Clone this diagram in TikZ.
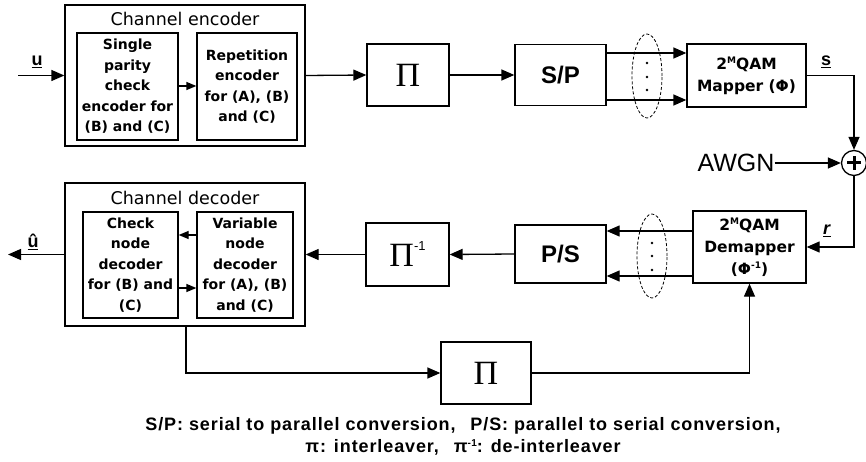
\documentclass[tikz,border=0pt]{standalone}
\usepackage{fontspec}
\setmainfont{Liberation Sans}
\newfontfamily\dvs{DejaVu Sans}
\newfontfamily\lserif{Liberation Serif}
\usetikzlibrary{arrows.meta,shapes.geometric}
\tikzset{
  blk/.style={draw, line width=1.3pt, inner sep=0pt, align=center},
  inner/.style={blk, font=\dvs\bfseries\fontsize{14}{20.5}\selectfont},
  qam/.style={blk, font=\dvs\bfseries\fontsize{15.5}{22}\selectfont},
  pibox/.style={blk, font=\lserif\fontsize{34}{34}\selectfont},
  conv/.style={blk, font=\bfseries\fontsize{24}{24}\selectfont},
  arr/.style={-{Triangle[length=13pt,width=11pt]}, line width=1.3pt},
  sarr/.style={-{Triangle[length=10pt,width=8pt]}, line width=1.3pt},
  dell/.style={ellipse, draw, dash pattern=on 3pt off 2pt, line width=0.8pt, inner sep=0pt, minimum width=30pt, minimum height=84pt},
  lbl/.style={font=\bfseries\fontsize{18}{18}\selectfont, inner sep=0pt},
  title/.style={font=\dvs\fontsize{17.5}{17.5}\selectfont, inner sep=0pt}
}
\newcommand{\smallsup}[1]{\raisebox{6pt}{\fontsize{9}{9}\selectfont #1}}
\begin{document}
\begin{tikzpicture}[x=1pt,y=-1pt]
\useasboundingbox (0,0) rectangle (866,462);
% encoder
\node[blk, minimum width=240pt, minimum height=141pt] (enc) at (185,75.5) {};
\node[title] (enct) at (185,19) {Channel encoder};
\node[inner, minimum width=101pt, minimum height=107pt] (spc) at (127.5,86.5) {Single\\parity\\check\\encoder for\\(B) and (C)};
\node[inner, minimum width=100pt, minimum height=107pt] (rep) at (247,86.5) {Repetition\\encoder\\for (A), (B)\\and (C)};
\coordinate (uin) at (18,75.5);
\node[lbl] (ulbl) at (37,62) {\underline{u}};
% top chain
\node[pibox, minimum width=82pt, minimum height=62pt] (pi1) at (408,75) {Π};
\node[conv, minimum width=91pt, minimum height=61pt] (sp) at (560.5,75) {S/P};
\node[dell] (el1) at (647,76) {};
\node[qam, minimum width=119pt, minimum height=63pt] (map) at (746.5,75.5) {2\smallsup{M}QAM\\Mapper (Φ)};
\node[lbl] (slbl) at (826,62) {\underline{s}};
% adder
\node[circle, draw, line width=1.3pt, minimum size=25pt, inner sep=0pt] (add) at (854,163) {};
\draw[line width=3pt] ([xshift=-7pt]add.center) -- ([xshift=7pt]add.center);
\draw[line width=3pt] ([yshift=-7pt]add.center) -- ([yshift=7pt]add.center);
\node[font=\fontsize{25}{25}\selectfont, inner sep=0pt] (awgn) at (736,163) {AWGN};
% bottom chain
\node[qam, minimum width=113pt, minimum height=72pt] (dem) at (749.5,247) {2\smallsup{M}QAM\\Demapper\\(Φ\smallsup{-1})};
\node[lbl] (rlbl) at (827,231) {\underline{\textit{r}}};
\node[dell] (el2) at (652,256) {};
\node[conv, minimum width=91pt, minimum height=58pt] (ps) at (560.5,254) {P/S};
\node[pibox, minimum width=83pt, minimum height=63pt] (pii) at (407.5,254.5) {Π\raisebox{16pt}{\normalfont\fontsize{13}{13}\selectfont -1}};
% decoder
\node[blk, minimum width=240pt, minimum height=143pt] (dec) at (185,254.5) {};
\node[title] (dect) at (185,198) {Channel decoder};
\node[inner, minimum width=95pt, minimum height=106pt] (chk) at (130.5,265) {Check\\node\\decoder\\for (B) and\\(C)};
\node[inner, minimum width=96pt, minimum height=106pt] (var) at (245,265) {Variable\\node\\decoder\\for (A), (B)\\and (C)};
\coordinate (uout) at (8,254.5);
\node[lbl] (uhlbl) at (33,242) {\underline{û}};
\node[pibox, minimum width=90pt, minimum height=62pt] (pi3) at (486,373) {Π};
% dots in ellipses
\foreach \yy in {63,77,90} \fill (647,\yy) circle (1.4pt);
\foreach \yy in {243,256,270} \fill (652,\yy) circle (1.4pt);
% connectors
\draw[arr] (uin) -- (enc.west);
\draw[sarr] (spc.east |- 0,86) -- (rep.west |- 0,86);
\draw[arr] (enc.east) -- (pi1.west);
\draw[arr] (pi1.east) -- (sp.west);
\draw[arr] (sp.east |- 0,53) -- (map.west |- 0,53);
\draw[arr] (sp.east |- 0,100) -- (map.west |- 0,100);
\draw[arr] (map.east) -| (add.north);
\draw[arr] (awgn.east) -- (add.west);
\draw[arr] (add.south) |- (dem.east);
\draw[arr] (dem.west |- 0,231) -- (ps.east |- 0,231);
\draw[arr] (dem.west |- 0,276) -- (ps.east |- 0,276);
\draw[arr] (ps.west) -- (pii.east);
\draw[arr] (pii.west) -- (dec.east);
\draw[sarr] (var.west |- 0,235) -- (chk.east |- 0,235);
\draw[sarr] (chk.east |- 0,288) -- (var.west |- 0,288);
\draw[arr] (dec.west) -- (uout);
\draw[arr] (dec.south -| 186,0) |- (pi3.west);
\draw[arr] (pi3.east) -| (dem.south);
% caption
\node[font=\bfseries\fontsize{18}{22}\selectfont\addfontfeatures{LetterSpace=5}, align=center, inner sep=0pt] (cap) at (463,436)
 {S/P: serial to parallel conversion,\hspace{0.5em} P/S: parallel to serial conversion,\\
  π: interleaver,\hspace{0.5em} π\raisebox{6pt}{\fontsize{10}{10}\selectfont -1}: de-interleaver};
\end{tikzpicture}
\end{document}
